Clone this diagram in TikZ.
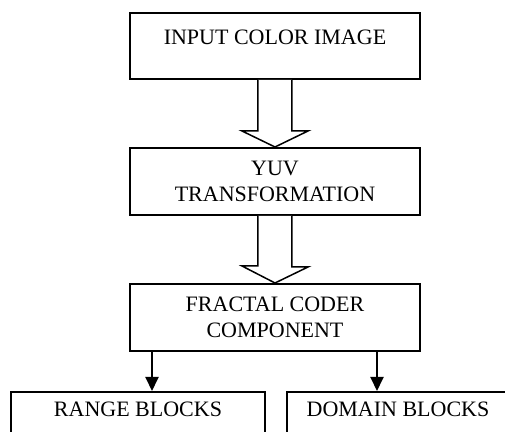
\documentclass[tikz,border=0pt]{standalone}
\usepackage{fontspec}
\setmainfont{Liberation Serif}
\usepackage{tikz}
\usetikzlibrary{arrows.meta, positioning}
\tikzstyle{block} = [rectangle, minimum width=145pt, minimum height=33.5pt, text centered, align=center, draw=black, line width=1pt, inner sep=0pt, font=\fontsize{11}{13}\selectfont]
\tikzstyle{leaf} = [block, minimum width=127pt]
\tikzstyle{hollow} = [draw=black, line width=0.75pt, fill=white, line join=miter]
\tikzstyle{arrow} = [line width=1pt, -{Triangle[width=6.5pt, length=7pt]}]

\begin{document}
\begin{tikzpicture}[x=0.5pt, y=-0.5pt, node distance=33.5pt]
\clip (0,0) rectangle (505,432);
% Nodes
\node (in) [block, minimum height=33pt] at (275,46) {INPUT COLOR IMAGE\\[-4pt]\mbox{}};
\node (yuv) [block, below=of in] {YUV\\TRANSFORMATION};
\node (frac) [block, below=of yuv] {FRACTAL CODER\\COMPONENT};
\node (range) [leaf, anchor=north] at (138,391) {RANGE BLOCKS\\[3pt]\mbox{}};
\node (domain) [leaf, minimum width=111pt, anchor=north] at (398,391) {DOMAIN BLOCKS\\[3pt]\mbox{}};

% Arrows
\draw [hollow] ([xshift=-8.5pt]in.south) -- ++(0,51) -- ++(-16,0) -- (yuv.north) -- ++(33,-16) -- ++(-16,0) -- ([xshift=8.5pt]in.south);
\draw [hollow] ([xshift=-8.5pt]yuv.south) -- ++(0,50) -- ++(-16,0) -- (frac.north) -- ++(33,-16) -- ++(-16,0) -- ([xshift=8.5pt]yuv.south);
\draw [arrow] ([xshift=11.5pt]frac.south west) -- ([xshift=11.5pt]frac.south west |- range.north);
\draw [arrow] ([xshift=-22pt]frac.south east) -- ([xshift=-22pt]frac.south east |- domain.north);
\end{tikzpicture}
\end{document}
